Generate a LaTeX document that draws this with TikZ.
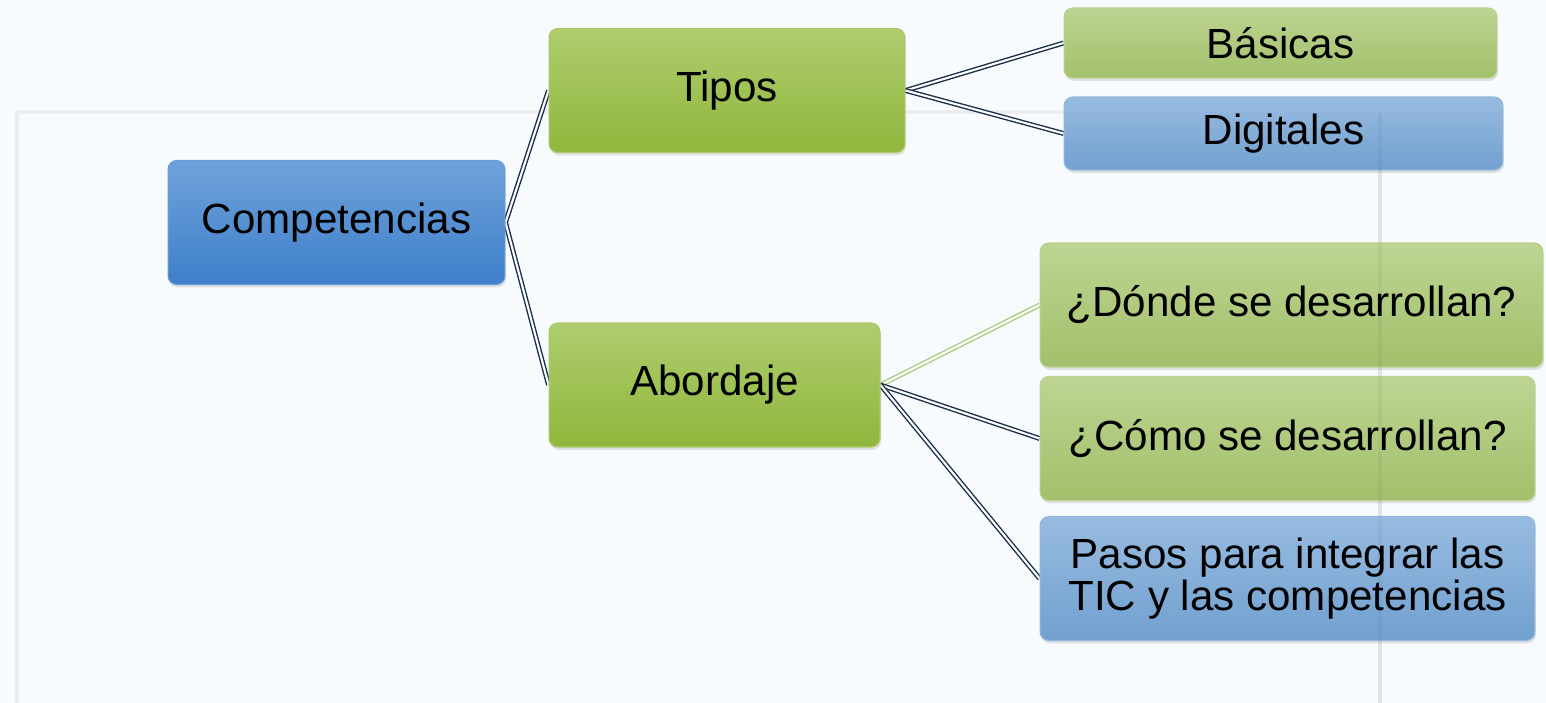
\documentclass[tikz,border=0pt]{standalone}
\usepackage{fontspec}
\setmainfont{Liberation Sans}
\usetikzlibrary{shadows}
\pgfdeclarelayer{bg}
\pgfsetlayers{bg,main}
\definecolor{azul}{HTML}{3F83CF}
\definecolor{verde}{HTML}{94BC3E}
\definecolor{verdeclaro}{HTML}{A7C66E}
\definecolor{azulclaro}{HTML}{75A5D6}
\definecolor{enlaceosc}{HTML}{1B2F4D}
\definecolor{enlaceclaro}{HTML}{A9CB7F}
\definecolor{fondo}{HTML}{F8FBFD}
\tikzset{
  caja/.style={rounded corners=5pt, top color=#1!75!white, middle color=#1,
    bottom color=#1!97!black, draw=#1!80!white, line width=0.6pt,
    drop shadow={opacity=0.22, shadow xshift=0.6pt, shadow yshift=-1.6pt},
    text=black, font=\fontsize{24}{24}\selectfont, align=center,
    minimum height=2.48cm, inner sep=0pt},
  enlace/.style={draw=enlaceosc, line width=0.8pt, double=white, double distance=1.2pt},
  enlaceverde/.style={draw=enlaceclaro, line width=0.8pt, double=white, double distance=1.2pt}
}

\begin{document}
\begin{tikzpicture}[x=0.02cm, y=-0.02cm]
        \useasboundingbox (0, 0) rectangle (1546, 703);
        \node (comp) [caja=azul, minimum width=6.74cm] at (336.5, 222.5) {Competencias};
        \node (tipos) [caja=verde, minimum width=7.12cm] at (727, 90.5) {Tipos};
        \node (abord) [caja=verde, minimum width=6.62cm] at (714.5, 385) {Abordaje};
        \node (basic) [caja=verdeclaro, minimum width=8.66cm, minimum height=1.4cm] at (1280.5, 43) {Básicas};
        \node (digit) [caja=azulclaro, minimum width=8.78cm, minimum height=1.46cm] at (1283.5, 133.5) {Digitales};
        \node (donde) [caja=verdeclaro, minimum width=10.06cm] at (1291.5, 305) {¿Dónde se desarrollan?};
        \node (como) [caja=verdeclaro, minimum width=9.9cm] at (1287.5, 438.5) {¿Cómo se desarrollan?};
        \node (pasos) [caja=azulclaro, minimum width=9.9cm] at (1287.5, 578.5) {Pasos para integrar las\\TIC y las competencias};
        \begin{pgfonlayer}{bg}
                \fill [fondo] (0, 0) rectangle (1546, 703);
                \draw [black!7, line width=2pt] (17, 710) -- (17, 112) -- (1380, 112) -- (1380, 710);
                \draw (comp.east) edge [enlace] (tipos.west);
                \draw (comp.east) edge [enlace] (abord.west);
                \draw (tipos.east) edge [enlace] (basic.west);
                \draw (tipos.east) edge [enlace] (digit.west);
                \draw (abord.east) edge [enlaceverde] (donde.west);
                \draw (abord.east) edge [enlace] (como.west);
                \draw (abord.east) edge [enlace] (pasos.west);
        \end{pgfonlayer}
        % faint frame edge seen through the boxes
        \draw [black, opacity=0.04, line width=2pt] (1380, 112) -- (1380, 703);
\end{tikzpicture}
\end{document}
